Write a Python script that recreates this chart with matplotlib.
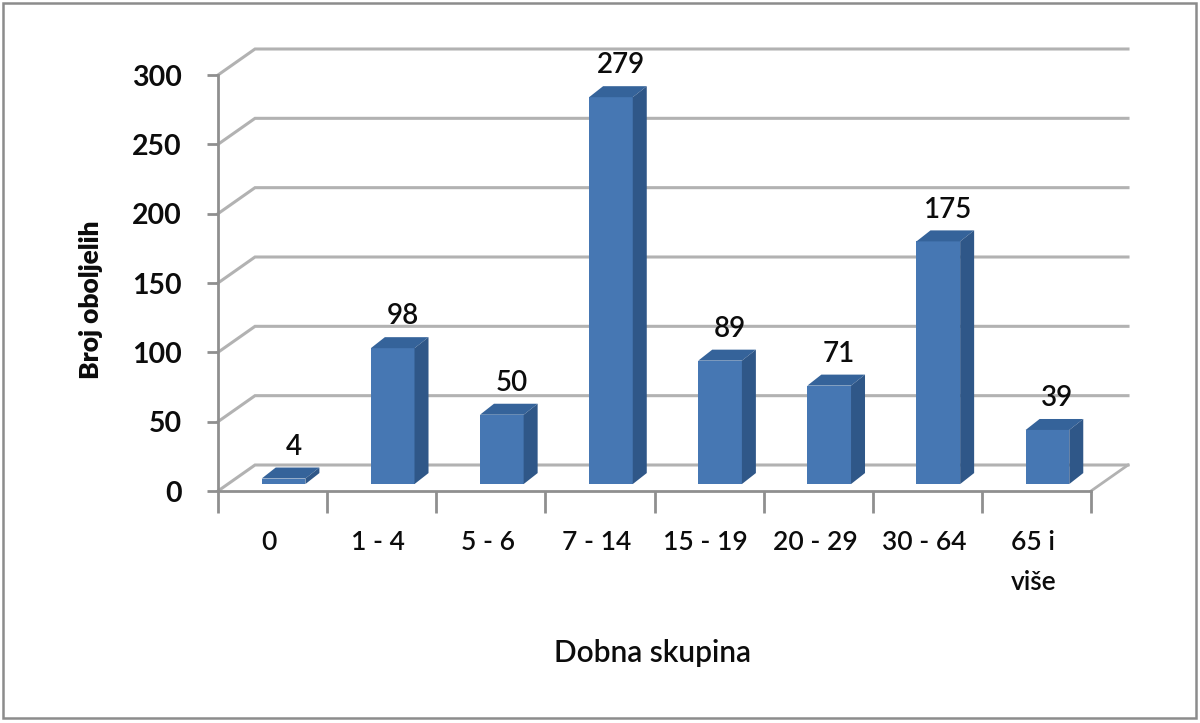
"""3D-look column chart: Broj oboljelih po dobnoj skupini."""
import matplotlib
matplotlib.use("Agg")
import matplotlib.pyplot as plt
from matplotlib.patches import Polygon, Rectangle

groups = ["0", "1 - 4", "5 - 6", "7 - 14", "15 - 19", "20 - 29", "30 - 64", "65 i\nviše"]
cases = [4, 98, 50, 279, 89, 71, 175, 39]
y_ticks = [0, 50, 100, 150, 200, 250, 300]

W, H = 1200, 723
LEFT, RIGHT, BOTTOM, TOP = 218, 1091, 491, 75   # plot box in pixels
GRID = "#b2b2b2"
AXIS = "#8f8f8f"
FRONT, SIDE, CAP = "#4677b3", "#2f5788", "#35639a"
INK = "#0c0c0c"

plt.rcParams["font.family"] = ["Lato", "DejaVu Sans"]
fig = plt.figure(figsize=(W / 100, H / 100), dpi=100, facecolor="white")
fig.add_artist(Rectangle((3 / W, 1 - 718 / H), 1193 / W, 715 / H, transform=fig.transFigure,
                         fill=False, ec="#8c8c8c", lw=1.8))
ax = fig.add_axes([LEFT / W, 1 - BOTTOM / H, (RIGHT - LEFT) / W, (BOTTOM - TOP) / H])
ax.set_xlim(0, len(groups))
ax.set_ylim(0, 300)

# pixel sizes expressed in data units
px_x = len(groups) / (RIGHT - LEFT)
px_y = 300 / (BOTTOM - TOP)
wall_dx, wall_dy = 37 * px_x, 26 * px_y
depth_dx, depth_dy = 14 * px_x, 11 * px_y
shift_x, base = 11 * px_x, 5

# walls: slanted part on the side plus the long line at the back
for v in y_ticks:
    ax.plot([0, wall_dx, len(groups) + wall_dx], [v, v + wall_dy, v + wall_dy],
            color=GRID, lw=2.2, clip_on=False, zorder=1, solid_joinstyle="miter")
ax.plot([len(groups), len(groups) + wall_dx], [0, wall_dy], color=GRID, lw=2, clip_on=False, zorder=1)

centers = [i + 0.5 + shift_x for i in range(len(groups))]
bw = 0.4
ax.bar(centers, cases, width=bw, bottom=base, color=FRONT, zorder=3, clip_on=False)
for c, v in zip(centers, cases):
    x0, x1, top = c - bw / 2, c + bw / 2, v + base
    ax.add_patch(Polygon([(x0, top), (x0 + depth_dx, top + depth_dy), (x1 + depth_dx, top + depth_dy), (x1, top)],
                         fc=CAP, ec="none", zorder=3, clip_on=False))
    ax.add_patch(Polygon([(x1, base), (x1 + depth_dx, base + depth_dy), (x1 + depth_dx, top + depth_dy), (x1, top)],
                         fc=SIDE, ec="none", zorder=3, clip_on=False))
    ax.text(c + 10 * px_x, top + 23, str(v), ha="center", va="center", fontsize=20,
            fontweight="semibold", color=INK, zorder=4)

for s in ["top", "right"]:
    ax.spines[s].set_visible(False)
for s in ["left", "bottom"]:
    ax.spines[s].set_color(AXIS)
    ax.spines[s].set_linewidth(2)
ax.patch.set_alpha(0)

ax.set_yticks(y_ticks)
ax.tick_params(axis="y", length=8, width=2, color=AXIS, pad=18, labelsize=20.5, labelcolor=INK)
for t in ax.get_yticklabels():
    t.set_fontweight("bold")
ax.set_xticks(range(len(groups) + 1), labels=[])
ax.tick_params(axis="x", which="major", length=16, width=2, color=AXIS)
ax.set_xticks([i + 0.47 for i in range(len(groups))], labels=groups, minor=True)
ax.tick_params(axis="x", which="minor", length=0, pad=28, labelsize=19, labelcolor=INK)
for t in ax.get_xticklabels(minor=True):
    t.set_linespacing(1.77)
    t.set_verticalalignment("top")
    t.set_fontweight("semibold")

ax.set_xlabel("Dobna skupina", fontsize=21.5, fontweight="semibold", color=INK)
ax.xaxis.set_label_coords((653 - LEFT) / (RIGHT - LEFT), (BOTTOM - 653) / (BOTTOM - TOP), transform=ax.transAxes)
ax.xaxis.label.set_verticalalignment("center")
ax.set_ylabel("Broj oboljelih", fontsize=19, fontweight="heavy", color=INK)
ax.yaxis.set_label_coords((91 - LEFT) / (RIGHT - LEFT), (BOTTOM - 300) / (BOTTOM - TOP), transform=ax.transAxes)
ax.yaxis.label.set_verticalalignment("center")

fig.savefig("out.png", dpi=100)
